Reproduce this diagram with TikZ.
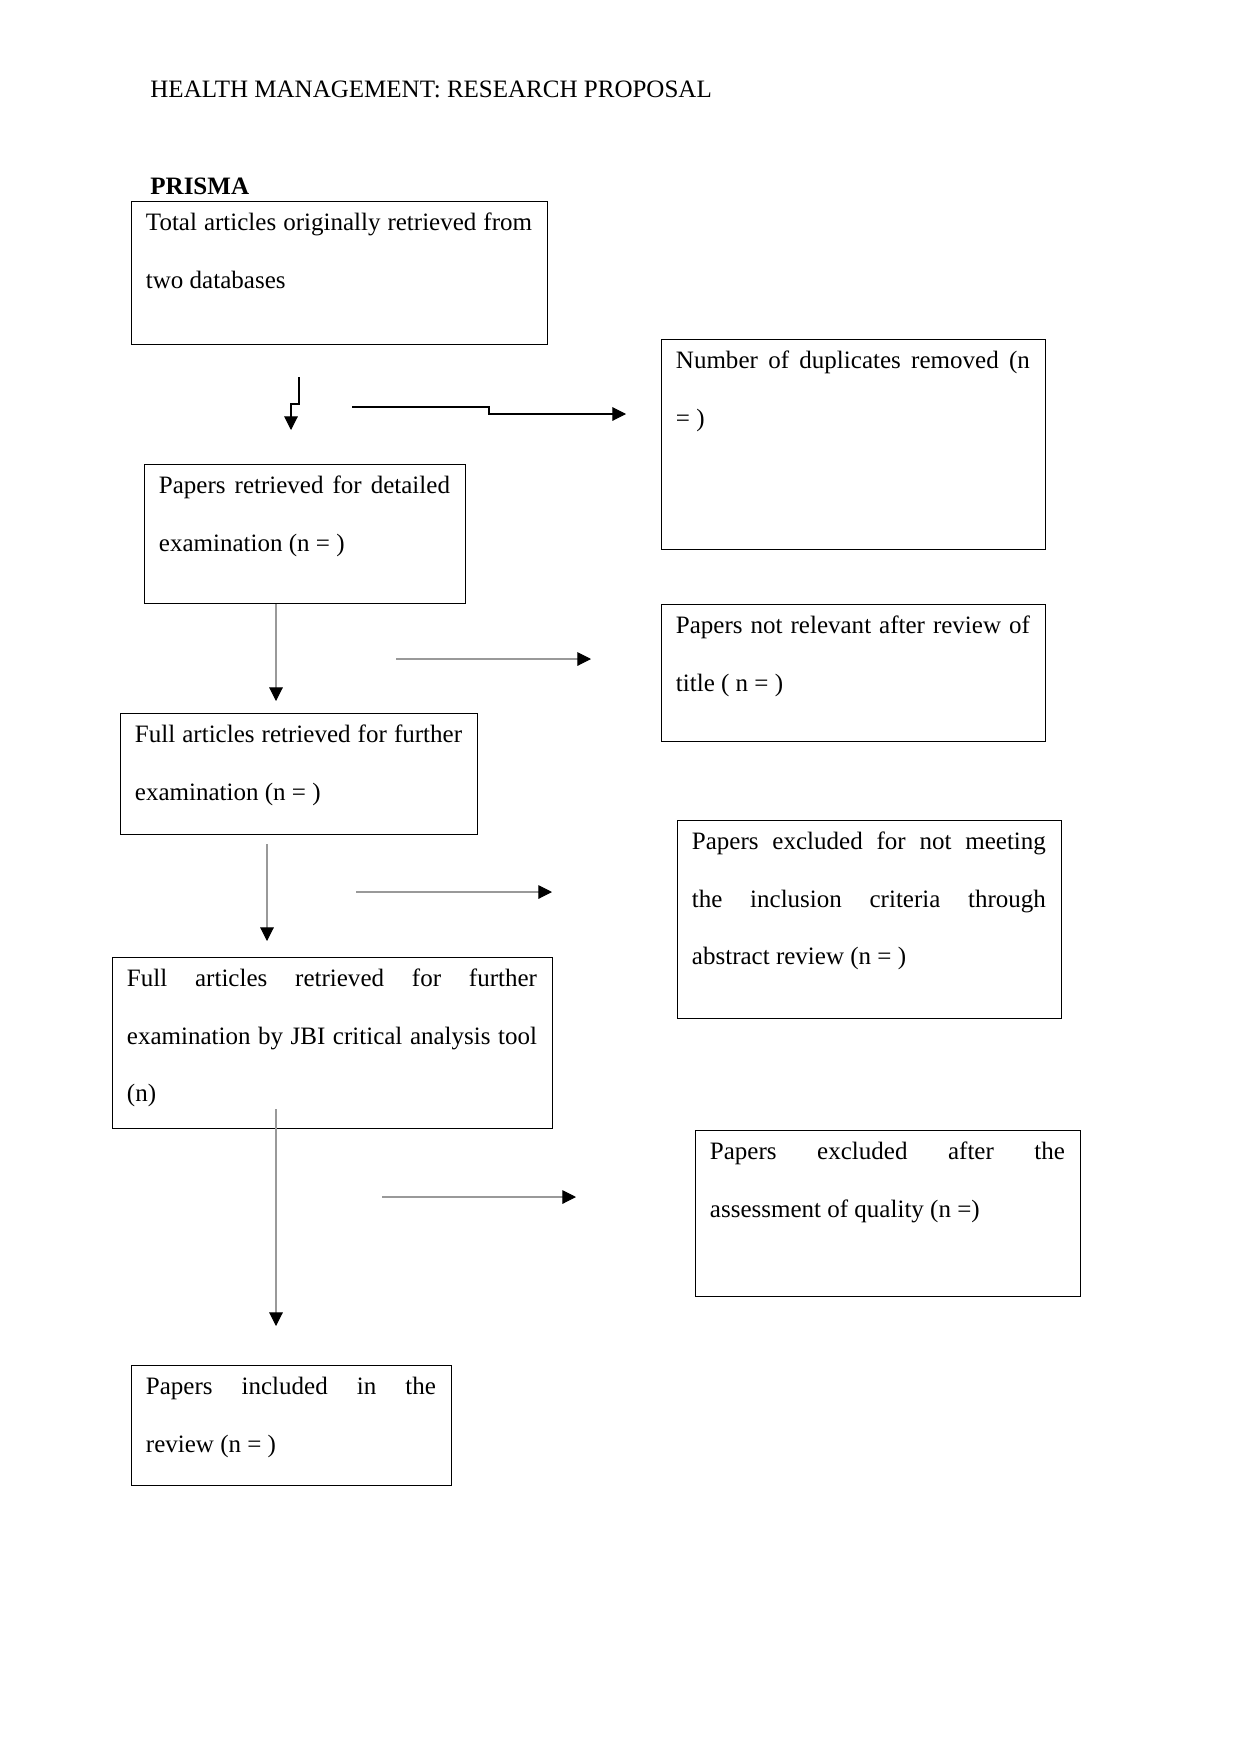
\documentclass[tikz,border=0pt]{standalone}
\usepackage{fontspec}
\setmainfont{Liberation Serif}
\usetikzlibrary{arrows.meta,fit}
\begin{document}
\begin{tikzpicture}[x=0.4797pt,y=-0.4797pt,
  box/.style={draw, line width=0.45pt, inner sep=0pt},
  txt/.style={anchor=north west, inner sep=0pt, align=justify, font=\fontsize{12pt}{27.6pt}\selectfont},
  arr/.style={line width=0.5pt, -{Triangle[length=6.5pt,width=6.5pt,color=black]}},
  garr/.style={arr, draw=black!40},
 ]
\useasboundingbox (0,0) rectangle (1241,1754);

\node[anchor=base west, inner sep=0pt, font=\fontsize{12pt}{14pt}\selectfont] (title) at (150,98) {HEALTH MANAGEMENT: RESEARCH PROPOSAL};
\node[anchor=base west, inner sep=0pt, font=\fontsize{12pt}{14pt}\selectfont\bfseries] (prisma) at (150,195) {PRISMA};

% boxes
\node[box, fit={(131,201) (547,344)}] (b1) {};
\node[txt, text width=185.2pt] (t1) at ([xshift=7.2pt]b1.north west) {\rule{0pt}{14.2pt}Total articles originally retrieved from\linebreak two databases};

\node[box, fit={(661,339) (1045,549)}] (b2) {};
\node[txt, text width=169.8pt] (t2) at ([xshift=7.2pt]b2.north west) {\rule{0pt}{14.2pt}Number of duplicates removed (n\linebreak = )};

\node[box, fit={(144,464) (465,603)}] (b3) {};
\node[txt, text width=139.6pt] (t3) at ([xshift=7.2pt]b3.north west) {\rule{0pt}{14.2pt}Papers retrieved for detailed\linebreak examination (n = )};

\node[box, fit={(661,604) (1045,741)}] (b4) {};
\node[txt, text width=169.8pt] (t4) at ([xshift=7.2pt]b4.north west) {\rule{0pt}{14.2pt}Papers not relevant after review of\linebreak title ( n = )};

\node[box, fit={(120,713) (477,834)}] (b5) {};
\node[txt, text width=156.9pt] (t5) at ([xshift=7.2pt]b5.north west) {\rule{0pt}{14.2pt}Full articles retrieved for further\linebreak examination (n = )};

\node[box, fit={(677,820) (1061,1018)}] (b6) {};
\node[txt, text width=169.8pt] (t6) at ([xshift=7.2pt]b6.north west) {\rule{0pt}{14.2pt}Papers excluded for not meeting\linebreak the inclusion criteria through\linebreak abstract review (n = )};

\node[box, fit={(112,957) (552,1128)}] (b7) {};
\node[txt, text width=196.7pt] (t7) at ([xshift=7.2pt]b7.north west) {\rule{0pt}{14.2pt}Full articles retrieved for further\linebreak examination by JBI critical analysis tool\linebreak (n)};

\node[box, fit={(695,1130) (1080,1296)}] (b8) {};
\node[txt, text width=170.3pt] (t8) at ([xshift=7.2pt]b8.north west) {\rule{0pt}{14.2pt}Papers excluded after the\linebreak assessment of quality (n =)};

\node[box, fit={(131,1365) (451,1485)}] (b9) {};
\node[txt, text width=139.1pt] (t9) at ([xshift=7.2pt]b9.north west) {\rule{0pt}{14.2pt}Papers included in the\linebreak review (n = )};

% free-floating connectors
\coordinate (a1s) at (299,377);
\coordinate (a1e) at (291,430);
\draw[arr] (a1s) -- (299,404) -- (291,404) -- (a1e);

\coordinate (a2s) at (352,407);
\coordinate (a2e) at (626,414);
\draw[arr] (a2s) -- (489,407) -- (489,414) -- (a2e);

\coordinate (a3s) at (276,604);
\coordinate (a3e) at (276,701);
\draw[garr] (a3s) -- (a3e);

\coordinate (a4s) at (396,659);
\coordinate (a4e) at (591,659);
\draw[garr] (a4s) -- (a4e);

\coordinate (a5s) at (267,844);
\coordinate (a5e) at (267,941);
\draw[garr] (a5s) -- (a5e);

\coordinate (a6s) at (356,892);
\coordinate (a6e) at (552,892);
\draw[garr] (a6s) -- (a6e);

\coordinate (a7s) at (276,1109);
\coordinate (a7e) at (276,1326);
\draw[garr] (a7s) -- (a7e);

\coordinate (a8s) at (382,1197);
\coordinate (a8e) at (576,1197);
\draw[garr] (a8s) -- (a8e);

\end{tikzpicture}
\end{document}
